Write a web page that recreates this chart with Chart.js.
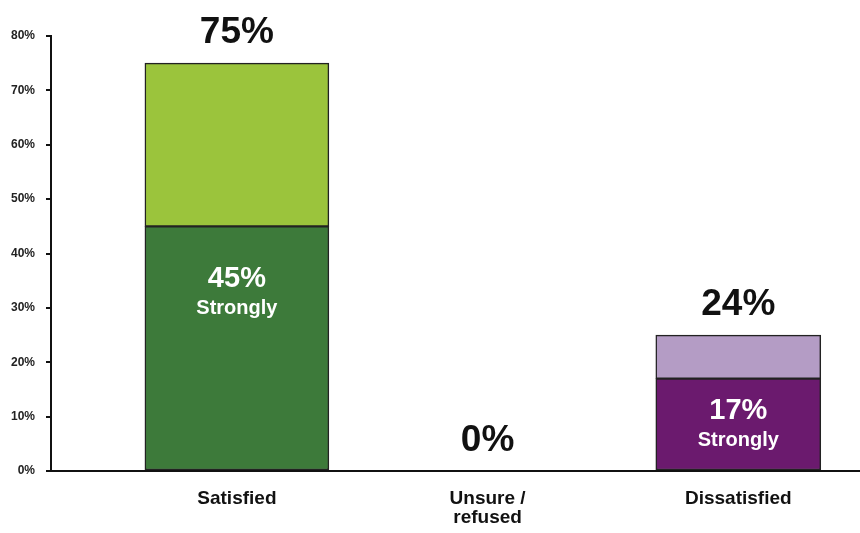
<!DOCTYPE html>
<html>
<head>
<meta charset="utf-8">
<script src="https://cdn.jsdelivr.net/npm/chart.js@4"></script>
<style>
  html, body { margin: 0; padding: 0; background: #fff; }
  #wrap { width: 860px; height: 533px; position: relative; }
</style>
</head>
<body>
<div id="wrap"><canvas id="myChart"></canvas></div>
<script>

const categories = ["Satisfied", "Unsure / refused", "Dissatisfied"];
const strongly = [45, 0, 17];
const somewhat = [30, 0, 8];
const totalLabels = ["75%", "0%", "24%"];
const strongLabels = ["45%", "", "17%"];
const yTicks = [0, 10, 20, 30, 40, 50, 60, 70, 80];

// styles per category
const darkColors = ["#3d7a3a", "#000", "#6b1a6e"];
const lightColors = ["#9bc43c", "#000", "#b49cc5"];
const barWidths = [184, 0, 165];

const FONT = "'Liberation Sans', Arial, sans-serif";

const datasets = [];
categories.forEach((c, i) => {
  if (strongly[i] + somewhat[i] <= 0) return;
  datasets.push({
    label: c + " strongly",
    data: [{ x: i, y: strongly[i] }],
    backgroundColor: darkColors[i],
    barThickness: barWidths[i],
  });
  datasets.push({
    label: c + " somewhat",
    data: [{ x: i, y: somewhat[i] }],
    backgroundColor: lightColors[i],
    barThickness: barWidths[i],
  });
});
datasets.forEach(d => {
  d.borderColor = "#222";
  d.borderWidth = 1.5;
  d.borderSkipped = false;
});

const barLabels = {
  id: "barLabels",
  afterDatasetsDraw(chart) {
    const ctx = chart.ctx;
    const xs = chart.scales.x;
    const ys = chart.scales.y;
    ctx.save();
    ctx.textAlign = "center";
    ctx.textBaseline = "alphabetic";
    categories.forEach((c, i) => {
      const x = xs.getPixelForValue(i);
      const top = ys.getPixelForValue(strongly[i] + somewhat[i]);
      ctx.fillStyle = "#111";
      ctx.font = "bold 37px " + FONT;
      ctx.fillText(totalLabels[i], x, top - 20);

      if (strongly[i] > 0) {
        const segTop = ys.getPixelForValue(strongly[i]);
        const base = ys.getPixelForValue(0);
        const mid = segTop + Math.min((base - segTop) / 2, 67);
        ctx.fillStyle = "#fff";
        ctx.font = "bold 29px " + FONT;
        ctx.fillText(strongLabels[i], x, mid - 6);
        ctx.font = "bold 20px " + FONT;
        ctx.fillText("Strongly", x, mid + 21);
      }
    });
    ctx.restore();
  }
};

new Chart("myChart", {
  type: "bar",
  data: { datasets: datasets },
  plugins: [barLabels],
  options: {
    responsive: true,
    maintainAspectRatio: false,
    animation: false,
    layout: { padding: { top: 36, left: 0, right: 0, bottom: 0 } },
    plugins: {
      legend: { display: false },
      tooltip: { enabled: false },
    },
    scales: {
      x: {
        type: "linear",
        stacked: true,
        offset: false,
        min: -0.7415,
        max: 2.4855,
        afterBuildTicks: (scale) => {
          scale.ticks = categories.map((c, i) => ({ value: i }));
        },
        afterFit: (scale) => { scale.height = 62; },
        grid: { display: true, offset: false, drawOnChartArea: false, drawTicks: false },
        border: { display: true, color: "#111", width: 2 },
        ticks: {
          autoSkip: false,
          maxRotation: 0,
          padding: 18,
          color: "#111",
          font: { family: FONT, size: 19, weight: "bold", lineHeight: 1 },
          callback: (v) => {
            const lbl = categories[v];
            if (!lbl) return "";
            return lbl.indexOf(" / ") > 0 ? [lbl.split(" / ")[0] + " /", lbl.split(" / ")[1]] : lbl;
          },
        },
      },
      y: {
        stacked: true,
        min: 0,
        max: 80,
        afterBuildTicks: (scale) => {
          scale.ticks = yTicks.map(v => ({ value: v }));
        },
        afterFit: (scale) => { scale.width = 51; },
        grid: { drawOnChartArea: false, drawTicks: true, tickLength: 5, color: "#111", lineWidth: 2 },
        border: { display: true, color: "#111", width: 2 },
        ticks: {
          padding: 11,
          color: "#222",
          font: { family: FONT, size: 12, weight: "bold" },
          callback: (v) => v + "%",
        },
      },
    },
  },
});
</script>
</body>
</html>
